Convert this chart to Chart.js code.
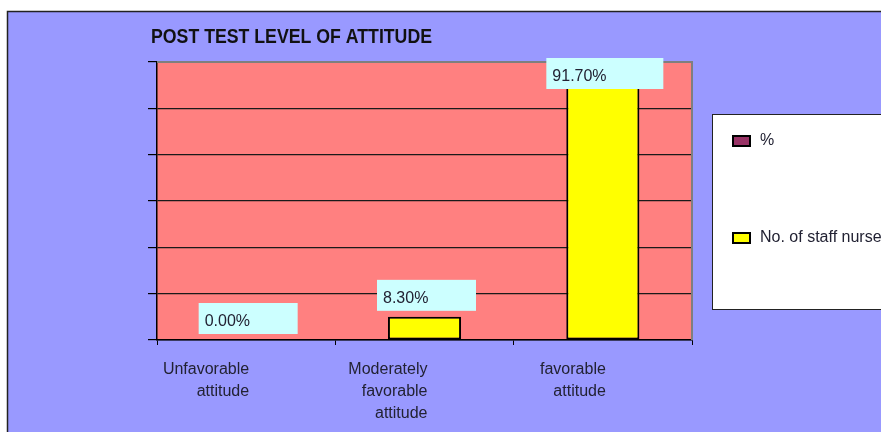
<!DOCTYPE html>
<html>
<head>
<meta charset="utf-8">
<script src="https://cdn.jsdelivr.net/npm/chart.js@4/dist/chart.umd.min.js"></script>
<style>
  html, body { margin: 0; padding: 0; background: #ffffff; }
  canvas { display: block; }
</style>
</head>
<body>
<canvas id="chart" width="881" height="432"></canvas>
<script>
const chartTitle = "POST TEST LEVEL OF ATTITUDE";
const categories = [
  ["Unfavorable", "attitude"],
  ["Moderately", "favorable", "attitude"],
  ["favorable", "attitude"],
];
const staffNurseCounts = [0, 1, 11];
const percentValues = [0, 8.3, 91.7];
const yMax = 12;
const yStep = 2;

const FONT = '"Liberation Sans", Arial, sans-serif';

function drawSquashed(ctx, text, x, y, scaleX) {
  ctx.save();
  ctx.translate(x, y);
  ctx.scale(scaleX, 1);
  ctx.fillText(text, 0, 0);
  ctx.restore();
}

// Background frame, plot fill, title and the plot-area border.
const framePlugin = {
  id: "frame",
  beforeDraw(chart) {
    const { ctx, chartArea } = chart;
    ctx.save();
    ctx.fillStyle = "#ffffff";
    ctx.fillRect(0, 0, chart.width, chart.height);
    ctx.fillStyle = "#9999ff";
    ctx.fillRect(7, 11, chart.width - 7, chart.height - 11);
    ctx.strokeStyle = "#222222";
    ctx.lineWidth = 1.5;
    ctx.beginPath();
    ctx.moveTo(7.5, chart.height);
    ctx.lineTo(7.5, 11.5);
    ctx.lineTo(chart.width, 11.5);
    ctx.stroke();

    ctx.fillStyle = "#ff8080";
    ctx.fillRect(chartArea.left, chartArea.top, chartArea.right - chartArea.left, chartArea.bottom - chartArea.top);

    ctx.fillStyle = "#111111";
    ctx.font = "bold 20px " + FONT;
    ctx.textBaseline = "alphabetic";
    const w = ctx.measureText(chartTitle).width;
    drawSquashed(ctx, chartTitle, 151, 43, 281 / w);
    ctx.restore();
  },
  beforeDatasetsDraw(chart) {
    const { ctx, chartArea } = chart;
    ctx.save();
    ctx.strokeStyle = "#7f7f7f";
    ctx.lineWidth = 2;
    ctx.beginPath();
    ctx.moveTo(chartArea.left, chartArea.top);
    ctx.lineTo(chartArea.right, chartArea.top);
    ctx.lineTo(chartArea.right, chartArea.bottom);
    ctx.stroke();
    ctx.restore();
  },
};

// Percent labels in light cyan boxes above the count bars.
const percentLabelPlugin = {
  id: "percentLabels",
  afterDatasetsDraw(chart) {
    const { ctx, chartArea } = chart;
    const pctSet = chart.data.datasets[0];
    const bars = chart.getDatasetMeta(1).data;
    ctx.save();
    ctx.font = "16px " + FONT;
    ctx.textBaseline = "alphabetic";
    bars.forEach((bar, i) => {
      const text = pctSet.data[i].toFixed(2) + "%";
      const tw = ctx.measureText(text).width;
      const boxW = Math.round(tw * 2 + 8);
      const boxH = 31;
      const left = bar.x + 2 - boxW / 2;
      let top = bar.y - 6 - boxH;
      top = Math.max(top, chartArea.top - 4);
      ctx.fillStyle = "#ccffff";
      ctx.fillRect(left, top, boxW, boxH);
      ctx.fillStyle = "#222233";
      ctx.fillText(text, left + 6, top + 23);
    });
    ctx.restore();
  },
};

// White legend box on the right, partly cut by the canvas edge.
const boxLegendPlugin = {
  id: "boxLegend",
  afterDraw(chart) {
    const { ctx } = chart;
    ctx.save();
    ctx.fillStyle = "#ffffff";
    ctx.fillRect(712, 114, 200, 195);
    ctx.strokeStyle = "#222222";
    ctx.lineWidth = 1;
    ctx.strokeRect(712.5, 114.5, 200, 195);
    ctx.font = "16px " + FONT;
    ctx.textBaseline = "middle";
    chart.data.datasets.forEach((ds, i) => {
      const cy = 141 + i * 97;
      ctx.fillStyle = ds.backgroundColor;
      ctx.fillRect(733, cy - 5, 17, 10);
      ctx.strokeStyle = "#000000";
      ctx.lineWidth = 2;
      ctx.strokeRect(733, cy - 5, 17, 10);
      ctx.fillStyle = "#222233";
      ctx.fillText(ds.label, 760, cy);
    });
    ctx.restore();
  },
};

new Chart(document.getElementById("chart"), {
  type: "bar",
  data: {
    labels: categories,
    datasets: [
      {
        label: "%",
        data: percentValues,
        hidden: true,
        backgroundColor: "#993366",
        borderColor: "#000000",
        borderWidth: 2,
      },
      {
        label: "No. of staff nurse",
        data: staffNurseCounts,
        backgroundColor: "#ffff00",
        borderColor: "#000000",
        borderWidth: 2,
        borderSkipped: false,
        categoryPercentage: 1,
        barPercentage: 0.41,
      },
    ],
  },
  options: {
    responsive: false,
    animation: false,
    layout: {
      padding: { top: 62, left: 148, right: 189, bottom: 0 },
    },
    plugins: {
      legend: { display: false },
      title: { display: false },
      tooltip: { enabled: false },
    },
    scales: {
      x: {
        offset: true,
        grid: {
          display: true,
          drawOnChartArea: false,
          drawTicks: true,
          tickLength: 5,
          tickColor: "#000000",
          offset: true,
        },
        border: { display: true, color: "#000000", width: 1.5 },
        ticks: {
          color: "#222233",
          align: "end",
          labelOffset: 3,
          padding: 14,
          maxRotation: 0,
          autoSkip: false,
          font: { family: FONT, size: 16, lineHeight: 1.375 },
        },
        afterFit(scale) {
          scale.height = 92;
        },
      },
      y: {
        min: 0,
        max: yMax,
        ticks: { display: false, stepSize: yStep },
        grid: {
          color: (c) => (c.tick && c.tick.value === yMax ? "rgba(0,0,0,0)" : "#1a1a1a"),
          lineWidth: 1.2,
          drawTicks: true,
          tickLength: 9,
          tickColor: "#000000",
        },
        border: { display: true, color: "#000000", width: 1.5 },
        afterFit(scale) {
          scale.width = 9;
        },
      },
    },
  },
  plugins: [framePlugin, percentLabelPlugin, boxLegendPlugin],
});
</script>
</body>
</html>
